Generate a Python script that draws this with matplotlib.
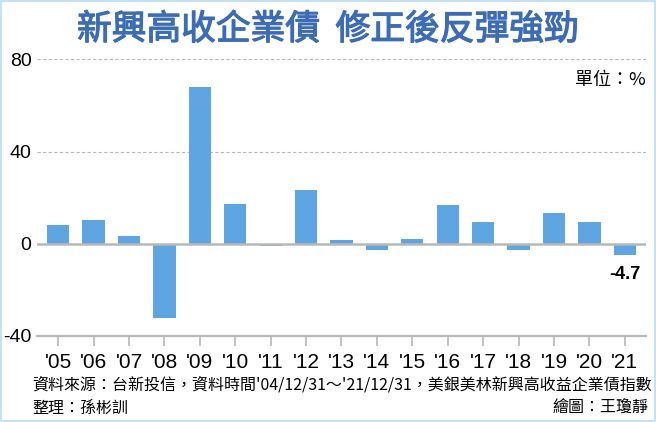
import matplotlib
matplotlib.use("Agg")
import matplotlib.pyplot as plt
import matplotlib.patheffects as pe
from matplotlib.patches import Rectangle

# Data
years = ["'05", "'06", "'07", "'08", "'09", "'10", "'11", "'12", "'13",
         "'14", "'15", "'16", "'17", "'18", "'19", "'20", "'21"]
returns = [8.1, 10.3, 3.5, -32.2, 68.1, 17.4, -1.1, 23.3, 1.6,
           -2.5, 2.2, 17.0, 9.6, -2.6, 13.3, 9.6, -4.7]
yticks = [-40, 0, 40, 80]
title = "新興高收企業債  修正後反彈強勁"
unit_text = "單位：%"
source_text = "資料來源：台新投信，資料時間'04/12/31～'21/12/31，美銀美林新興高收益企業債指數"
editor_text = "整理：孫彬訓"
artist_text = "繪圖：王瓊靜"
last_label = "-4.7"

CJK = ["Noto Sans CJK TC", "DejaVu Sans"]
NUM = ["Liberation Sans Narrow", "Liberation Sans", "DejaVu Sans"]
plt.rcParams['font.family'] = CJK

bar_color = "#5fa5e2"
title_color = "#3b6cb4"
grid_color = "#b8b8b8"
border_color = "#c6e0f4"

fig = plt.figure(figsize=(6.56, 4.22), dpi=100)
fig.patch.set_facecolor("white")

ax = fig.add_axes([37/656, 1 - 336/422, 609/656, (336 - 59.3)/422])
x = list(range(len(years)))
ax.bar(x, returns, width=0.63, color=bar_color, zorder=2)
ax.set_xlim(-0.6, len(years) - 0.4)
ax.set_ylim(-40, 80)

for s in ["top", "right", "left"]:
    ax.spines[s].set_visible(False)
ax.spines["bottom"].set_color(grid_color)
ax.spines["bottom"].set_linewidth(1.6)

ax.axhline(0, color=grid_color, linewidth=1.8, zorder=3)
for v in [40, 80]:
    ax.axhline(v, color=grid_color, linewidth=0.8, linestyle=(0, (3, 2)), zorder=1)

ax.set_xticks(x)
ax.set_xticklabels(years, fontsize=15, family=NUM)
ax.tick_params(axis="x", length=7, width=1.2, color=grid_color, pad=5)
ax.set_yticks(yticks)
ax.set_yticklabels([str(v) for v in yticks], fontsize=14, family=["Liberation Sans", "DejaVu Sans"])
ax.tick_params(axis="y", length=0, pad=4)

ax.annotate(last_label, xy=(x[-1], returns[-1]), xytext=(0, -8),
            textcoords="offset points", ha="center", va="top",
            fontsize=13, fontweight="bold", family=["Liberation Sans", "DejaVu Sans"])

fig.text(0.5, 1 - 30/422, title, ha="center", va="center",
         fontsize=25, color=title_color,
         path_effects=[pe.withStroke(linewidth=0.9, foreground=title_color)])
fig.text(646/656, 1 - 80/422, unit_text, ha="right", va="center", fontsize=13)
fig.text(32/656, 1 - 385/422, source_text, ha="left", va="center", fontsize=11.5)
fig.text(32/656, 1 - 408/422, editor_text, ha="left", va="center", fontsize=11.5)
fig.text(648/656, 1 - 408/422, artist_text, ha="right", va="center", fontsize=11.5)

fig.patches.append(Rectangle((0, 0), 1, 1, transform=fig.transFigure,
                             fill=False, edgecolor=border_color, linewidth=3))

fig.savefig("out.png", dpi=100)
